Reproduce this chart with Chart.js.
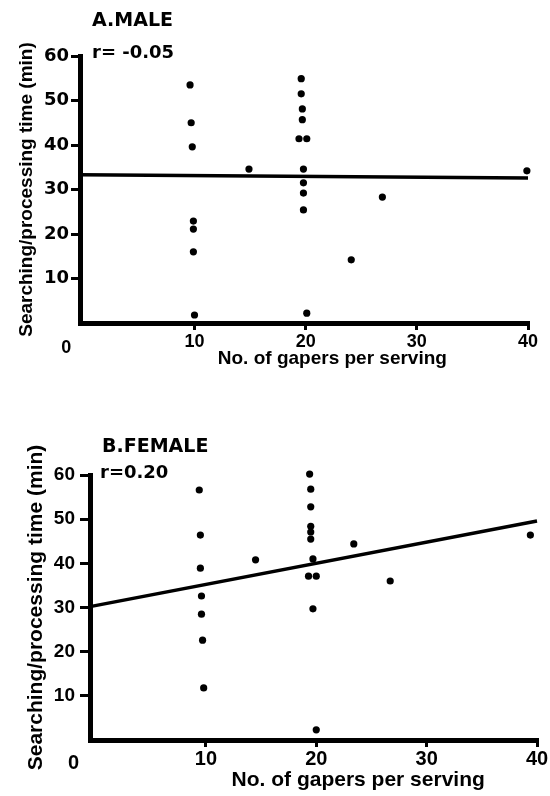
<!DOCTYPE html>
<html><head><meta charset="utf-8">
<script src="https://cdn.jsdelivr.net/npm/chart.js@4.4.0/dist/chart.umd.min.js"></script>
<style>
html,body{margin:0;padding:0;background:#fff;}
#wrap{position:relative;width:550px;height:796px;overflow:hidden;background:#fff;}
canvas{position:absolute;left:0;}
#cA{top:0;} #cB{top:410px;}
</style></head><body>
<div id="wrap"><canvas id="cA" width="550" height="380"></canvas><canvas id="cB" width="550" height="386"></canvas></div>
<script>
// ---- data ----
const xTickValues = [10, 20, 30, 40];
const yTickValues = [10, 20, 30, 40, 50, 60];

const maleX = [9.6, 9.7, 9.8, 9.9, 9.9, 9.9, 10.0,
               19.6, 19.6, 19.7, 19.7, 19.4, 20.1, 19.8, 19.8, 19.8, 19.8, 20.1,
               14.9, 24.1, 26.9, 39.9];
const maleY = [53.5, 45.0, 39.6, 22.9, 21.1, 16.0, 1.8,
               54.9, 51.5, 48.1, 45.7, 41.4, 41.4, 34.6, 31.5, 29.2, 25.4, 2.2,
               34.6, 14.2, 28.3, 34.2];
const maleLineX = [-0.3, 40];
const maleLineY = [33.3, 32.6];

const femaleX = [9.4, 9.5, 9.5, 9.6, 9.6, 9.7, 9.8,
                 19.4, 19.5, 19.5, 19.5, 19.5, 19.5, 19.7, 19.3, 20.0, 19.7, 20.0,
                 14.5, 23.4, 26.7, 39.4];
const femaleY = [56.6, 46.4, 38.9, 32.6, 28.5, 22.6, 11.8,
                 60.2, 56.8, 52.8, 48.4, 47.1, 45.5, 41.0, 37.1, 37.1, 29.7, 2.3,
                 40.8, 44.4, 36.0, 46.4];
const femaleLineX = [-0.5, 40];
const femaleLineY = [30.2, 49.6];

const panelTitles = ['A.MALE', 'B.FEMALE'];
const rLabels = ['r= -0.05', 'r=0.20'];
const xAxisTitle = 'No. of gapers per serving';
const yAxisTitle = 'Searching/processing time (min)';

// ---- rendering ----
const toPts = (xs, ys) => xs.map((x, i) => ({x: x, y: ys[i]}));

const panelText = {
  id: 'panelText',
  afterDraw(chart, args, o) {
    const {ctx, chartArea, scales} = chart;
    ctx.save();
    ctx.fillStyle = '#000';
    ctx.textAlign = 'left';
    ctx.textBaseline = 'alphabetic';
    ctx.font = o.titleFont;
    ctx.fillText(o.title, chartArea.left + o.titleDx, chartArea.top + o.titleDy);
    ctx.font = o.rFont;
    ctx.fillText(o.r, chartArea.left + o.rDx, chartArea.top + o.rDy);
    ctx.textAlign = 'center';
    ctx.textBaseline = 'middle';
    ctx.font = o.zeroFont;
    ctx.fillText('0', scales.x.getPixelForValue(0) + o.zeroDx, chartArea.bottom + o.zeroDy);
    ctx.font = o.xTitleFont;
    ctx.fillText(o.xTitle, scales.x.getPixelForValue(o.xTitleAt), chartArea.bottom + o.xTitleDy);
    ctx.restore();
  }
};

function makeChart(id, c) {
  return new Chart(document.getElementById(id), {
    type: 'scatter',
    data: {
      datasets: [
        {type: 'line', data: toPts(c.lineX, c.lineY), borderColor: '#000', borderWidth: c.lineW,
         pointRadius: 0, fill: false, clip: false, order: 2},
        {data: toPts(c.xs, c.ys), backgroundColor: '#000', borderWidth: 0,
         pointRadius: 3.6, pointHoverRadius: 3.6, clip: false, order: 1}
      ]
    },
    options: {
      responsive: false, animation: false, devicePixelRatio: 1,
      layout: {padding: {top: c.top, right: c.right, left: 0, bottom: 0}},
      plugins: {legend: {display: false}, tooltip: {enabled: false},
        panelText: c.text},
      scales: {
        x: {type: 'linear', min: c.xMin, max: 40,
          afterBuildTicks: s => { s.ticks = xTickValues.map(v => ({value: v})); },
          afterFit: s => { s.height = c.xHeight; },
          border: {display: true, color: '#000', width: c.axisW},
          grid: {display: true, drawOnChartArea: false, drawTicks: true, tickLength: 7, lineWidth: 3, color: '#000'},
          ticks: {color: '#000', font: c.xTickFont, padding: c.xTickPad, maxRotation: 0, autoSkip: false},
          title: {display: false}
        },
        y: {type: 'linear', min: 0, max: 60,
          afterBuildTicks: s => { s.ticks = yTickValues.map(v => ({value: v})); },
          afterFit: s => { s.width = c.yWidth; },
          border: {display: true, color: '#000', width: c.axisW},
          grid: {display: true, drawOnChartArea: false, drawTicks: true, tickLength: c.yTickLen, lineWidth: 3, color: '#000'},
          ticks: {color: '#000', font: c.yTickFont, padding: c.yTickPad, autoSkip: false},
          title: {display: true, text: yAxisTitle, color: '#000', font: c.yTitleFont, padding: {top: c.yTitlePad, bottom: 0}}
        }
      }
    },
    plugins: [panelText]
  });
}

makeChart('cA', {
  xs: maleX, ys: maleY, lineX: maleLineX, lineY: maleLineY,
  top: 56, right: 22, xHeight: 57, yWidth: 80, xMin: -0.3,
  axisW: 5, lineW: 3.5, yTickLen: 9, yTickPad: 2, xTickPad: 1,
  xTickFont: {family: 'Liberation Sans', weight: 'bold', size: 18},
  yTickFont: {family: 'DejaVu Sans', weight: 'bold', size: 18},
  yTitleFont: {family: 'Liberation Sans', weight: 'bold', size: 19},
  yTitlePad: 15,
  text: {title: panelTitles[0], r: rLabels[0],
    titleFont: 'bold 19px "DejaVu Sans"', rFont: 'bold 18px "DejaVu Sans"',
    titleDx: 12, titleDy: -30, rDx: 12, rDy: 2,
    zeroFont: 'bold 18px "Liberation Sans"', zeroDx: -17, zeroDy: 25,
    xTitle: xAxisTitle, xTitleFont: 'bold 19px "Liberation Sans"', xTitleAt: 22.4, xTitleDy: 36}
});

makeChart('cB', {
  xs: femaleX, ys: femaleY, lineX: femaleLineX, lineY: femaleLineY,
  top: 65, right: 13, xHeight: 56, yWidth: 90, xMin: -0.5,
  axisW: 5, lineW: 3.5, yTickLen: 10, yTickPad: 5, xTickPad: 0,
  xTickFont: {family: 'Liberation Sans', weight: 'bold', size: 20},
  yTickFont: {family: 'Liberation Sans', weight: 'bold', size: 19},
  yTitleFont: {family: 'Liberation Sans', weight: 'bold', size: 21},
  yTitlePad: 24,
  text: {title: panelTitles[1], r: rLabels[1],
    titleFont: 'bold 19px "DejaVu Sans"', rFont: 'bold 18px "DejaVu Sans"',
    titleDx: 12, titleDy: -23, rDx: 10, rDy: 3,
    zeroFont: 'bold 20px "Liberation Sans"', zeroDx: -22, zeroDy: 23,
    xTitle: xAxisTitle, xTitleFont: 'bold 21px "Liberation Sans"', xTitleAt: 23.8, xTitleDy: 40}
});
</script>
</body></html>
